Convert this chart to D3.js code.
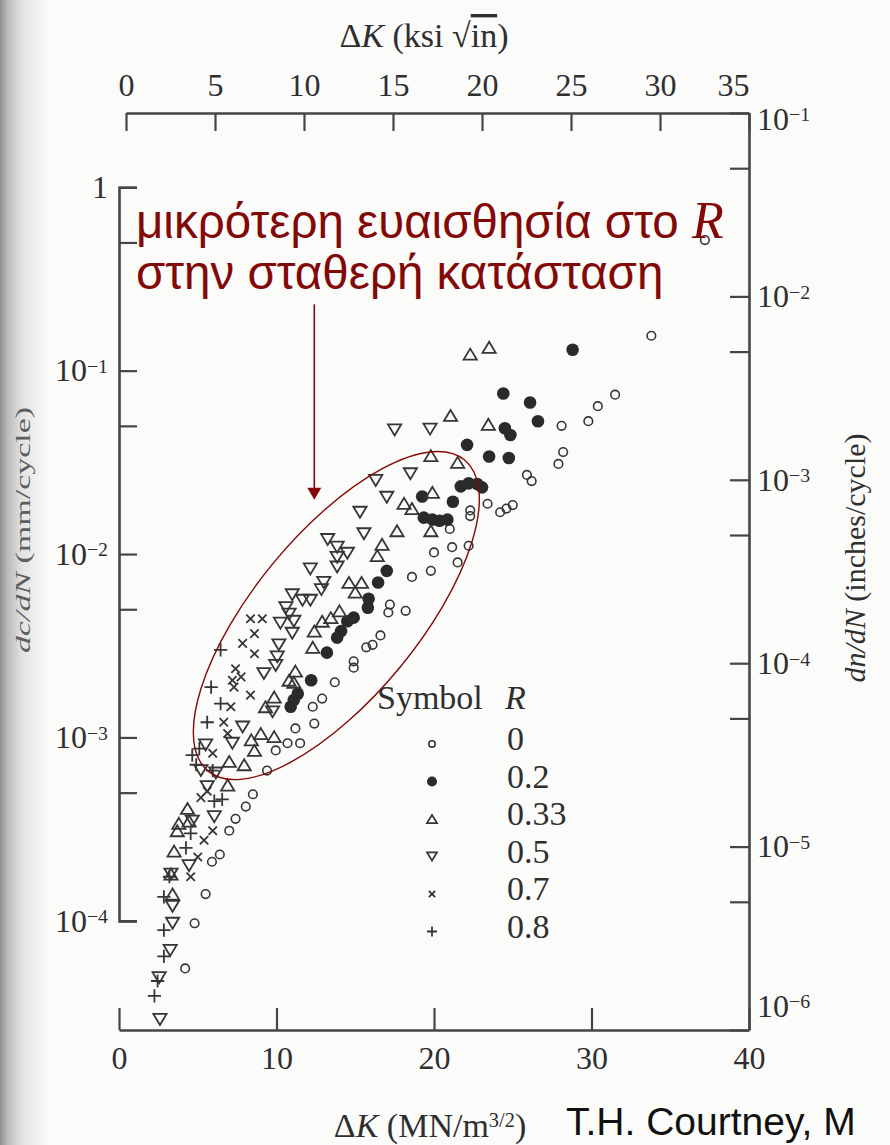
<!DOCTYPE html>
<html>
<head>
<meta charset="utf-8">
<script src="https://cdn.jsdelivr.net/npm/d3@7"></script>
<style>
  html, body { margin: 0; padding: 0; background: #fbfbfa; }
  svg { display: block; }
</style>
</head>
<body>
<svg id="chart" width="890" height="1145"></svg>
<script>
// Fatigue crack growth rate vs stress-intensity range for several load ratios R.
// Each point: [ΔK (MN/m^3/2), dc/dN (mm/cycle)]

const seriesR0 = [
  [37.2,0.515],[33.8,0.155],[31.5,0.074],[30.4,0.064],[29.8,0.053],[28.1,0.050],
  [28.2,0.036],[27.9,0.031],[25.9,0.027],[26.2,0.025],[23.4,0.0188],[24.2,0.0169],
  [24.6,0.0177],[25.0,0.0185],[22.3,0.0173],[22.3,0.0161],[21.0,0.0137],[20.0,0.0102],
  [21.15,0.0109],[22.2,0.0111],[21.5,0.0090],[19.8,0.0081],[18.6,0.0075],[17.2,0.0053],
  [17.1,0.0048],[18.2,0.0049],[16.6,0.0036],[15.7,0.0031],[16.1,0.0032],[14.9,0.0026],
  [14.9,0.0024],[13.7,0.0020],[12.9,0.00163],[12.3,0.00147],[12.4,0.00119],[11.2,0.00112],
  [11.5,0.00093],[10.7,0.00093],[9.95,0.00085],[9.4,0.00066],[8.5,0.00049],[8.05,0.00042],
  [7.4,0.00036],[7.0,0.00031],[6.4,0.00023],[5.9,0.00021],[5.5,0.00014],[4.8,9.7e-5],
  [4.2,5.5e-5]
];

const seriesR02 = [
  [28.8,0.130],[24.4,0.075],[26.1,0.067],[26.6,0.053],[24.5,0.0485],[24.85,0.0446],
  [22.1,0.0394],[23.5,0.034],[24.75,0.0334],[21.7,0.0234],[22.2,0.0243],[22.75,0.0241],
  [23.05,0.0231],[21.2,0.0193],[19.25,0.0206],[19.35,0.0158],[19.9,0.0154],[20.35,0.0152],
  [20.85,0.0154],[17.0,0.0081],[16.45,0.0070],[15.85,0.0057],[15.8,0.0051],[14.9,0.0045],
  [14.5,0.0043],[14.1,0.0038],[13.85,0.0035],[13.2,0.0029],[12.2,0.00205],[11.35,0.00173],
  [11.1,0.0016],[10.9,0.00147]
];

const seriesR033 = [
  [22.3,0.123],[23.5,0.134],[21.05,0.057],[23.45,0.051],[19.8,0.0344],[21.5,0.0316],
  [19.9,0.0217],[18.1,0.0189],[18.6,0.0177],[19.8,0.0134],[17.65,0.0134],[16.7,0.0113],
  [16.4,0.0098],[14.6,0.0070],[15.4,0.0070],[15.0,0.0062],[14.0,0.0049],[13.45,0.0045],
  [12.9,0.0043],[12.4,0.0038],[12.3,0.0031],[11.2,0.0023],[10.8,0.00205],[11.1,0.0020],
  [9.3,0.00147],[9.85,0.00166],[8.4,0.00097],[9.85,0.00101],[9.0,0.00105],[8.6,0.00085],
  [7.0,0.00074],[7.95,0.00071],[6.9,0.00055],[4.35,0.00041],[3.8,0.00034],[4.45,0.00035],
  [3.7,0.00031],[3.5,0.00024],[3.3,0.00018],[3.4,0.00014]
];

const seriesR05 = [
  [17.5,0.0475],[19.75,0.048],[18.5,0.0274],[16.3,0.0252],[17.0,0.0204],[15.3,0.0169],
  [15.55,0.0129],[13.25,0.012],[13.85,0.0109],[14.5,0.0101],[13.85,0.0096],[13.85,0.0085],
  [12.15,0.0083],[13.0,0.0070],[12.85,0.0064],[11.0,0.0060],[10.6,0.0051],[11.65,0.0056],
  [12.15,0.0056],[10.8,0.0047],[11.1,0.0043],[10.25,0.0042],[11.0,0.0037],[10.15,0.0032],
  [10.05,0.00275],[9.95,0.00247],[9.2,0.00223],[9.75,0.00138],[7.85,0.00114],[7.2,0.00093],
  [5.5,0.00091],[5.2,0.00066],[5.6,0.00054],[6.15,0.00064],[4.65,0.00035],[6.05,0.00037],
  [4.45,0.00020],[3.3,0.00018],[3.4,0.00012],[3.4,9.7e-5],[3.25,6.9e-5],[2.55,4.9e-5],
  [2.6,2.9e-5]
];

const seriesR07 = [
  [8.35,0.00444],[9.1,0.00444],[8.6,0.00368],[7.85,0.00326],[8.6,0.00286],[7.4,0.00237],
  [7.75,0.00214],[7.2,0.00205],[7.3,0.00188],[8.35,0.0017],[7.1,0.00147],[6.65,0.00121],
  [6.9,0.00105],[5.95,0.00082],[5.6,0.00051],[5.2,0.00047],[5.95,0.00031],[5.4,0.000275],
  [5.0,0.000223],[4.55,0.000174]
];

const seriesR08 = [
  [6.45,0.0030],[5.85,0.00188],[6.45,0.00153],[5.6,0.00121],[5.1,0.00087],[4.65,0.0008],
  [4.9,0.00071],[5.95,0.00066],[6.05,0.00045],[6.55,0.00046],[4.55,0.00030],[4.25,0.00025],
  [3.2,0.000174],[2.85,0.000135],[2.85,8.9e-5],[2.85,6.4e-5],[2.45,4.7e-5],[2.25,3.9e-5]
];

const ratioLabels = ["0", "0.2", "0.33", "0.5", "0.7", "0.8"];
const markerKinds = ["circle", "disc", "triUp", "triDown", "cross", "plus"];

const mpaTicks = [0, 10, 20, 30, 40];
const ksiTicks = [0, 5, 10, 15, 20, 25, 30, 35];
const mmMajorExp = [0, -1, -2, -3, -4];
const mmMinor = [5e-1, 5e-2, 5e-3, 5e-4];
const inMajorExp = [-1, -2, -3, -4, -5, -6];
const inMinor = [5e-2, 5e-3, 5e-4, 5e-5, 5e-6];

const noteLines = ["μικρότερη ευαισθησία στο ", "στην σταθερή κατάσταση"];
const creditText = "T.H. Courtney, M";
const MM_PER_IN = 25.4;

// ---------------------------------------------------------------------------
const ink = "#363636";
const red = "#830808";
const serif = "'Liberation Serif', 'Times New Roman', serif";
const sans = "'Liberation Sans', Arial, sans-serif";

const svg = d3.select("#chart");
const box = { left: 119, right: 749, top: 113, bottom: 1030 };

const x = d3.scaleLinear().domain([0, 40]).range([box.left, box.right]);
const xKsi = d3.scaleLinear().domain([0, 35]).range([126, box.right]);
const yIn = d3.scaleLog().domain([1e-6, 1e-1]).range([box.bottom, box.top]);
const y = d3.scaleLog().domain([1e-6 * MM_PER_IN, 1e-1 * MM_PER_IN]).range([box.bottom, box.top]);

// page shading toward the binding
const defs = svg.append("defs");
const grad = defs.append("linearGradient").attr("id", "gutter").attr("x1", 0).attr("x2", 1);
[[0, "#8e8e8e"], [0.15, "#b9b9b9"], [0.45, "#e2e2e2"], [1, "#fbfbfa"]].forEach(([o, c]) =>
  grad.append("stop").attr("offset", o).attr("stop-color", c));
svg.append("rect").attr("width", 890).attr("height", 1145).attr("fill", "#fbfbfa");
svg.append("rect").attr("width", 48).attr("height", 1145).attr("fill", "url(#gutter)");

// ---------------------------------------------------------------------------
// power-of-ten labels with superscript exponents
function powerLabel(text, exp) {
  text.text(null);
  if (exp === 0) { text.append("tspan").text("1"); return; }
  text.append("tspan").text("10");
  text.append("tspan").attr("dy", "-0.42em").attr("font-size", "0.62em").text("\u2212" + Math.abs(exp));
}

function styleAxis(g, fontSize) {
  g.attr("font-family", serif).attr("font-size", fontSize);
  g.select(".domain").attr("stroke", "#454545").attr("stroke-width", 2.6);
  g.selectAll(".tick line").attr("stroke", "#454545").attr("stroke-width", 2.2);
  g.selectAll(".tick text").attr("fill", "#2f2f2f");
}

// bottom axis, MN/m^3/2
const gBottom = svg.append("g").attr("transform", `translate(0,${box.bottom})`)
  .call(d3.axisBottom(x).tickValues(mpaTicks).tickSizeInner(-22).tickSizeOuter(0).tickPadding(16));
styleAxis(gBottom, 32);

// top axis, ksi·in^1/2
const gTop = svg.append("g").attr("transform", `translate(0,${box.top})`)
  .call(d3.axisTop(xKsi).tickValues(ksiTicks).tickSizeInner(-18).tickSizeOuter(0).tickPadding(17));
styleAxis(gTop, 32);
gTop.selectAll(".tick text").filter(d => d === 35).attr("dx", -16);

// left axis, mm/cycle (spine runs only from 1 down to 1e-4)
const yLeft = y.copy().domain([1e-4, 1]).range([y(1e-4), y(1)]);
const mmTicks = mmMajorExp.map(e => Math.pow(10, e)).concat(mmMinor);
const gLeft = svg.append("g").attr("transform", `translate(${box.left},0)`)
  .call(d3.axisLeft(yLeft).tickValues(mmTicks).tickSizeInner(-18).tickSizeOuter(-18).tickPadding(11));
styleAxis(gLeft, 32);
gLeft.selectAll(".tick text").each(function (d) {
  const e = Math.round(Math.log10(d));
  if (mmMajorExp.includes(e) && Math.abs(Math.log10(d) - e) < 1e-6) powerLabel(d3.select(this), e);
  else d3.select(this).text("");
});

// right axis, inches/cycle
const inTicks = inMajorExp.map(e => Math.pow(10, e)).concat(inMinor);
const gRight = svg.append("g").attr("transform", `translate(${box.right},0)`)
  .call(d3.axisRight(yIn).tickValues(inTicks).tickSizeInner(-19).tickSizeOuter(0).tickPadding(8));
styleAxis(gRight, 32);
gRight.selectAll(".tick text").each(function (d) {
  const e = Math.round(Math.log10(d));
  if (inMajorExp.includes(e) && Math.abs(Math.log10(d) - e) < 1e-6) {
    powerLabel(d3.select(this), e);
    if (e === -6) d3.select(this).attr("y", -24);
    if (e === -1) d3.select(this).attr("y", 6);
  } else d3.select(this).text("");
});

// axis titles
const topTitle = svg.append("text").attr("x", 424).attr("y", 47)
  .attr("text-anchor", "middle").attr("font-family", serif).attr("font-size", 34).attr("fill", "#2f2f2f");
topTitle.append("tspan").text("Δ");
topTitle.append("tspan").attr("font-style", "italic").text("K");
topTitle.append("tspan").text(" (ksi ");
topTitle.append("tspan").text("√");
topTitle.append("tspan").style("text-decoration", "overline").text("in");
topTitle.append("tspan").text(")");

const bottomTitle = svg.append("text").attr("x", 430).attr("y", 1137)
  .attr("text-anchor", "middle").attr("font-family", serif).attr("font-size", 34).attr("fill", "#2f2f2f");
bottomTitle.append("tspan").text("Δ");
bottomTitle.append("tspan").attr("font-style", "italic").text("K");
bottomTitle.append("tspan").text(" (MN/m");
bottomTitle.append("tspan").attr("dy", "-0.5em").attr("font-size", "0.6em").text("3/2");
bottomTitle.append("tspan").attr("dy", "0.3em").text(")");

const leftTitle = svg.append("text")
  .attr("transform", "translate(30,530) scale(0.62,1) rotate(-90)")
  .attr("text-anchor", "middle").attr("font-family", serif).attr("font-size", 34).attr("fill", "#5e5e5e");
leftTitle.append("tspan").attr("font-style", "italic").text("dc/dN");
leftTitle.append("tspan").text(" (mm/cycle)");

const rightTitle = svg.append("text")
  .attr("transform", "translate(865,558) rotate(-90)")
  .attr("text-anchor", "middle").attr("font-family", serif).attr("font-size", 30).attr("fill", "#2f2f2f");
rightTitle.append("tspan").attr("font-style", "italic").text("dn/dN");
rightTitle.append("tspan").text(" (inches/cycle)");

// ---------------------------------------------------------------------------
// markers
function markerPath(kind, s) {
  const w = 13.2 * s, h = 11 * s, a = 4.2 * s, b = 6.6 * s;
  switch (kind) {
    case "triUp":   return `M0,${-h / 2}L${w / 2},${h / 2}L${-w / 2},${h / 2}Z`;
    case "triDown": return `M0,${h / 2}L${w / 2},${-h / 2}L${-w / 2},${-h / 2}Z`;
    case "cross":   return `M${-a},${-a}L${a},${a}M${-a},${a}L${a},${-a}`;
    case "plus":    return `M${-b},0H${b}M0,${-b}V${b}`;
  }
  return null;
}

function drawMarker(g, kind, s) {
  if (kind === "circle") {
    g.append("circle").attr("r", 4.3 * s).attr("fill", "none").attr("stroke", ink).attr("stroke-width", 1.6);
  } else if (kind === "disc") {
    g.append("circle").attr("r", 6.3 * s).attr("fill", "#2a2a2a");
  } else {
    g.append("path").attr("d", markerPath(kind, s)).attr("fill", "none")
      .attr("stroke", ink).attr("stroke-width", 1.8).attr("stroke-linejoin", "miter");
  }
}

const seriesList = [seriesR0, seriesR02, seriesR033, seriesR05, seriesR07, seriesR08]
  .map((data, i) => ({ R: ratioLabels[i], kind: markerKinds[i], data }));

const gPoints = svg.append("g").attr("class", "points");
seriesList.forEach(series => {
  gPoints.append("g").attr("class", "series-" + series.kind)
    .selectAll("g").data(series.data).join("g")
    .attr("transform", d => `translate(${x(d[0])},${y(d[1])})`)
    .each(function () { drawMarker(d3.select(this), series.kind, 1); });
});

// ---------------------------------------------------------------------------
// legend
const legend = svg.append("g").attr("font-family", serif).attr("font-size", 34).attr("fill", "#2f2f2f");
legend.append("text").attr("x", 377).attr("y", 709).text("Symbol");
legend.append("text").attr("x", 505).attr("y", 709).attr("font-style", "italic").text("R");

seriesList.forEach((series, i) => {
  const base = 750 + i * 37.5;
  const mg = legend.append("g").attr("transform", `translate(432,${base - 6})`);
  drawMarker(mg, series.kind, series.kind === "disc" ? 0.8 : 0.75);
  legend.append("text").attr("x", 507).attr("y", base).text(series.R);
});

// ---------------------------------------------------------------------------
// annotation
const note = svg.append("g").attr("fill", red).attr("font-family", sans).attr("font-size", 47.5);
const l1 = note.append("text").attr("x", 136).attr("y", 238);
l1.append("tspan").text(noteLines[0]);
l1.append("tspan").attr("font-family", serif).attr("font-style", "italic").attr("font-size", 52).text("R");
note.append("text").attr("x", 136).attr("y", 289).text(noteLines[1]);

// arrow pointing into the highlighted band
const arrowDK = 12.4, arrowFrom = 0.23, arrowTo = 0.0198;
const ax = x(arrowDK), ay0 = y(arrowFrom), ay1 = y(arrowTo);
svg.append("line").attr("x1", ax).attr("x2", ax).attr("y1", ay0).attr("y2", ay1 - 10)
  .attr("stroke", red).attr("stroke-width", 1.6);
svg.append("path").attr("d", `M${ax},${ay1}L${ax - 7},${ay1 - 12}L${ax + 7},${ay1 - 12}Z`).attr("fill", red);

// ellipse around the mid-range data
const ellDK = 13.8, ellRate = 0.00462;
svg.append("ellipse")
  .attr("transform", `translate(${x(ellDK)},${y(ellRate)}) rotate(-50.5)`)
  .attr("rx", 201.6).attr("ry", 82)
  .attr("fill", "none").attr("stroke", red).attr("stroke-width", 1.4);

// source credit
svg.append("text").attr("x", 566).attr("y", 1135).attr("font-family", sans).attr("font-size", 39)
  .attr("fill", "#111").text(creditText);
</script>
</body>
</html>
